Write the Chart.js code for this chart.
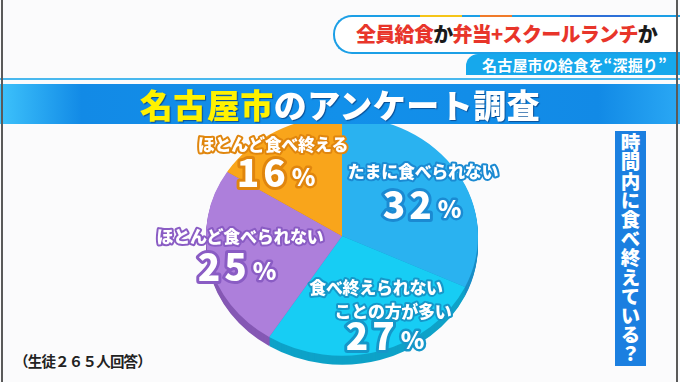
<!DOCTYPE html>
<html lang="ja">
<head>
<meta charset="utf-8">
<script src="https://cdn.jsdelivr.net/npm/chart.js@4"></script>
<style>
  html, body { margin: 0; padding: 0; }
  body {
    width: 680px; height: 382px; overflow: hidden; position: relative;
    background: #fbfbfc;
    font-family: "Noto Sans CJK JP", "Noto Sans", sans-serif;
  }
  .frame-l, .frame-r { position: absolute; top: 0; width: 2px; height: 382px; background: #5a5a5a; z-index: 9; }
  .frame-l { left: 1px; }
  .frame-r { left: 676px; }
  .pill {
    position: absolute; left: 333px; top: 15px; width: 360px; height: 35px;
    border: 2px solid #1c9fe6; border-right: none; border-radius: 19px 0 0 19px;
    background: #fff;
  }
  .pill-deco { position: absolute; top: 15px; height: 2px; }
  .headline {
    position: absolute; left: 356px; top: 19px; font-size: 20px; font-weight: 900;
    line-height: 30px; letter-spacing: -0.7px; color: #e8352a; white-space: nowrap;
  }
  .headline .k { color: #1a1a1a; }
  .tab {
    position: absolute; left: 466px; top: 54px; width: 220px; height: 21px;
    background: #16a8ec; border-radius: 12px 0 0 0;
    color: #fff; font-size: 15px; font-weight: 700; line-height: 21px;
    padding-left: 16px; box-sizing: border-box; white-space: nowrap; letter-spacing: 0.2px;
  }
  .thin { position: absolute; left: 0; top: 78px; width: 680px; height: 2px; background: #49b8ee; }
  .banner {
    position: absolute; left: 0; top: 84px; width: 680px; height: 40px; z-index: 5;
    background: linear-gradient(90deg, #3dc2fb 0%, #128ae6 12%, #1290ea 50%, #128ae6 88%, #2aa8f4 100%);
    text-align: center; font-size: 33px; font-weight: 900; line-height: 40px;
    color: #fff; letter-spacing: 0.5px; text-shadow: 1px 1px 1px #0a4f96;
  }
  .banner .y { color: #fff200; }
  .vbox {
    position: absolute; left: 615px; top: 131px; width: 31px; height: 235px;
    background: #1b7fe0; color: #fff; font-size: 19.5px; font-weight: 900;
    writing-mode: vertical-rl; text-orientation: upright; line-height: 31px;
    text-align: center; letter-spacing: -0.3px;
  }
  .note { position: absolute; left: 14px; top: 350px; font-size: 14.5px; font-weight: 700; color: #222; letter-spacing: -0.8px; }
  .chart-box { position: absolute; left: 147px; top: 100px; width: 390px; height: 272px; z-index: 2; }
</style>
</head>
<body>
<div class="frame-l"></div>
<div class="frame-r"></div>
<div class="pill"></div>
<div class="pill-deco" style="left:420px;width:42px;background:#f5c518;"></div>
<div class="pill-deco" style="left:480px;width:32px;background:#f07a2a;"></div>
<div class="pill-deco" style="left:570px;width:60px;background:#2c6fd8;"></div>
<div class="headline">全員給食<span class="k">か</span>弁当+スクールランチ<span class="k">か</span></div>
<div class="tab">名古屋市の給食を“深掘り”</div>
<div class="thin"></div>
<div class="banner"><span class="y">名古屋市</span>のアンケート調査</div>
<div class="vbox">時間内に食べ終えている？</div>
<div class="note">（生徒２６５人回答）</div>
<div class="chart-box"><canvas id="pie"></canvas></div>

<script>
const categories = ['たまに食べられない', '食べ終えられない ことの方が多い', 'ほとんど食べられない', 'ほとんど食べ終える'];
const labelLines = [['たまに食べられない'], ['食べ終えられない', 'ことの方が多い'], ['ほとんど食べられない'], ['ほとんど食べ終える']];
const shares = [32, 27, 25, 16];

const sliceColors = ['#2ab2f0', '#17cdf4', '#ad7fdb', '#f9a51b'];
const sideColors = ['#1a8dc6', '#0ea2c8', '#8558b4', '#cf810f'];
const outlineColors = ['#1b8ad2', '#1597c9', '#8a5cc4', '#e0860e'];

// label anchors relative to the pie centre: [name lines..., percent]
const labelSpots = [
    [[81, -64], [80, -31]],
    [[34, 52], [51, 76], [43, 100]],
    [[-102, 1], [-105, 31]],
    [[-69, -91], [-66, -63]],
];

const tilt = 0.88;
const depth = 9;

const tiltPlugin = {
    id: 'tilt',
    beforeDatasetsDraw(chart) {
        const ctx = chart.ctx;
        const meta = chart.getDatasetMeta(0);
        const { x, y } = meta.data[0];
        ctx.save();
        ctx.translate(x, y);
        ctx.scale(1, tilt);
        ctx.translate(-x, -y);
        // pie side (thickness)
        for (let d = depth; d >= 1; d--) {
            meta.data.forEach((arc, i) => {
                const bg = arc.options.backgroundColor;
                arc.options.backgroundColor = sideColors[i];
                ctx.save();
                ctx.translate(0, d / tilt);
                arc.draw(ctx);
                ctx.restore();
                arc.options.backgroundColor = bg;
            });
        }
    },
    afterDatasetsDraw(chart) {
        chart.ctx.restore();
    },
    afterDraw(chart) {
        const ctx = chart.ctx;
        const meta = chart.getDatasetMeta(0);
        const { x, y } = meta.data[0];
        ctx.save();
        ctx.textAlign = 'center';
        ctx.textBaseline = 'middle';
        ctx.lineJoin = 'round';
        const outlined = (text, px, py, font, color, width, spacing) => {
            ctx.font = font;
            ctx.letterSpacing = spacing || '0px';
            ctx.strokeStyle = color;
            ctx.lineWidth = width;
            ctx.strokeText(text, px, py);
            ctx.fillStyle = '#fff';
            ctx.fillText(text, px, py);
        };
        labelLines.forEach((lines, i) => {
            const spots = labelSpots[i];
            lines.forEach((line, j) => {
                outlined(line, x + spots[j][0], y + spots[j][1], '900 17px "Noto Sans CJK JP"', outlineColors[i], 4, '-0.3px');
            });
            const p = spots[lines.length];
            const numFont = '900 37px "Noto Sans CJK JP"';
            const pctFont = '900 24px "Noto Sans CJK JP"';
            const num = String(shares[i]);
            ctx.font = numFont;
            ctx.letterSpacing = '4px';
            const wn = ctx.measureText(num).width;
            ctx.font = pctFont;
            ctx.letterSpacing = '0px';
            const wp = ctx.measureText('%').width;
            const left = x + p[0] - (wn + wp + 2) / 2;
            outlined(num, left + wn / 2, y + p[1], numFont, outlineColors[i], 6, '4px');
            outlined('%', left + wn + 2 + wp / 2, y + p[1] + 4, pctFont, outlineColors[i], 5);
        });
        ctx.restore();
    },
};

new Chart(document.getElementById('pie'), {
    type: 'pie',
    data: {
        labels: categories,
        datasets: [{
            data: shares,
            backgroundColor: sliceColors,
            borderWidth: 0,
        }],
    },
    options: {
        responsive: true,
        maintainAspectRatio: false,
        animation: false,
        layout: { padding: 0 },
        plugins: {
            legend: { display: false },
            tooltip: { enabled: false },
        },
    },
    plugins: [tiltPlugin],
});
</script>
</body>
</html>
